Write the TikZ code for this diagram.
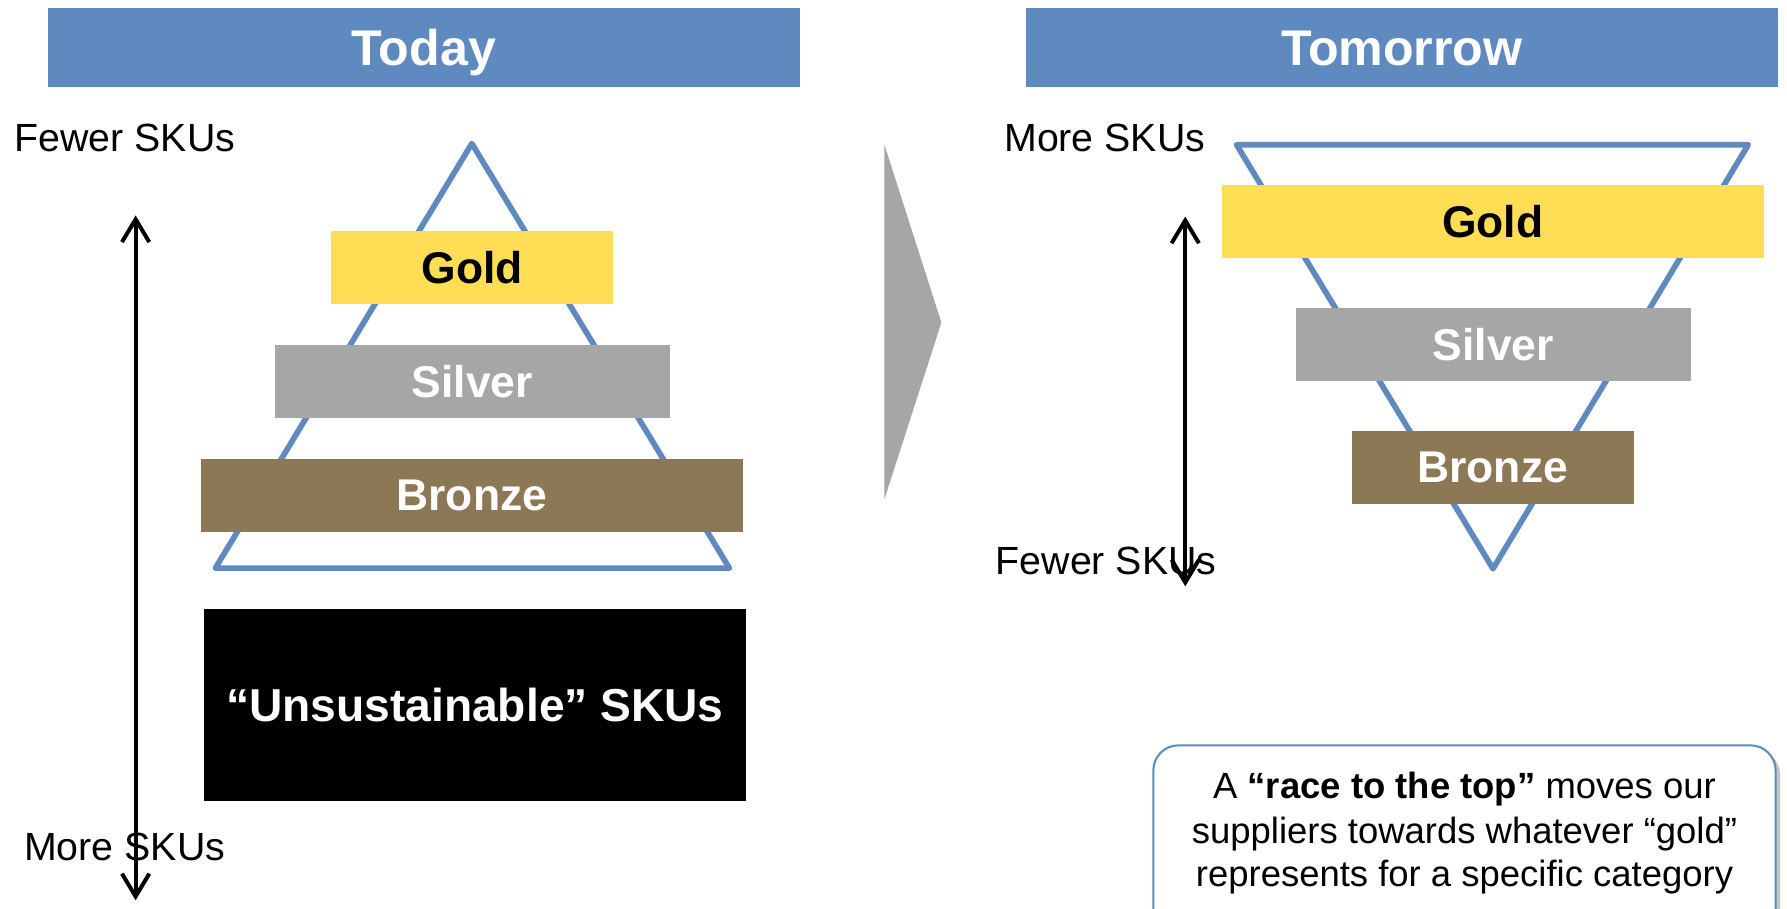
\documentclass[tikz,border=0pt]{standalone}
\usepackage{fontspec}
\setmainfont{Liberation Sans}
\usetikzlibrary{arrows.meta,shadows}
\definecolor{barblue}{RGB}{94,138,192}
\definecolor{goldc}{RGB}{255,221,85}
\definecolor{silverc}{RGB}{166,166,166}
\definecolor{bronzec}{RGB}{140,120,84}
\definecolor{chevgray}{RGB}{166,166,166}
\begin{document}
\begin{tikzpicture}[x=1pt,y=-1pt,
  bar/.style={fill=barblue, text=white, font=\fontsize{44}{50}\selectfont\bfseries, inner sep=0pt, minimum height=69pt, minimum width=660pt},
  bartext/.style={inner sep=0pt, text=white, font=\fontsize{44}{50}\selectfont\bfseries, anchor=base},
  tier/.style={inner sep=0pt, font=\fontsize{39}{44}\selectfont\bfseries},
  lbl/.style={inner sep=0pt, anchor=base west, font=\fontsize{34.5}{40}\selectfont},
  tri/.style={draw=barblue, line width=5pt, line join=round},
  axis/.style={line width=3.5pt, {Straight Barb[length=20pt,width=24pt]}-{Straight Barb[length=20pt,width=24pt]}},
  calltxt/.style={inner sep=0pt, anchor=base, font=\fontsize{32}{39}\selectfont},
]
\clip (0,0) rectangle (1568,797);
\fill[white] (0,0) rectangle (1568,797);

% title bars
\node[bar] (today) at (372,41.5) {};
\node[bartext] (todaytxt) at (372,57.5) {Today};
\node[bar] (tomorrow) at (1230,41.5) {};
\node[bartext] (tomorrowtxt) at (1230,57.5) {Tomorrow};

% chevron
\fill[chevgray] (776,127) -- (826,283) -- (776,438) -- cycle;

% ---------- Today ----------
\draw[tri] (414,126) -- (189,498.5) -- (640,498.5) -- cycle;
\node[tier, fill=goldc, text=black, minimum width=247pt, minimum height=64pt] (goldL) at (414.2,234.5) {Gold};
\node[tier, fill=silverc, text=white, minimum width=347pt, minimum height=64pt] (silverL) at (414.4,334.6) {Silver};
\node[tier, fill=bronzec, text=white, minimum width=476pt, minimum height=64pt] (bronzeL) at (414,434.5) {Bronze};
\node[tier, fill=black, text=white, minimum width=476pt, minimum height=168.5pt, font=\fontsize{40.5}{46}\selectfont\bfseries] (unsus) at (416.7,618.5) {“Unsustainable” SKUs};

\node[lbl] (fewerL) at (12.6,133) {Fewer SKUs};
\node[lbl] (moreL) at (21,755) {More SKUs};
\coordinate (axLtop) at (119,189);
\coordinate (axLbot) at (119,790);
\draw[axis] (axLtop) -- (axLbot);

% ---------- Tomorrow ----------
\draw[tri] (1085,127) -- (1534,127) -- (1310,499) -- cycle;
\node[tier, fill=goldc, text=black, minimum width=475.6pt, minimum height=64pt] (goldR) at (1309.8,194.1) {Gold};
\node[tier, fill=silverc, text=white, minimum width=346.6pt, minimum height=64pt] (silverR) at (1310.3,302.2) {Silver};
\node[tier, fill=bronzec, text=white, minimum width=247.5pt, minimum height=64pt] (bronzeR) at (1309.8,410) {Bronze};

\node[lbl] (moreR) at (881,132.6) {More SKUs};
\node[lbl] (fewerR) at (873.5,504) {Fewer SKUs};
\coordinate (axRtop) at (1040,190);
\coordinate (axRbot) at (1040,514.5);
\draw[axis] (axRtop) -- (axRbot);

% ---------- callout ----------
\node[draw=barblue, line width=1.8pt, fill=white, rounded corners=22pt,
      minimum width=546pt, minimum height=180pt, inner sep=0pt,
      drop shadow={shadow xshift=4pt, shadow yshift=-4pt, fill=black!45}] (callout) at (1285,744) {};
\node[calltxt] (line1) at (1285,700.5) {A \textbf{“race to the top”} moves our};
\node[calltxt] (line2) at (1285,740) {suppliers towards whatever “gold”};
\node[calltxt] (line3) at (1285,778) {represents for a specific category};
\end{tikzpicture}
\end{document}
